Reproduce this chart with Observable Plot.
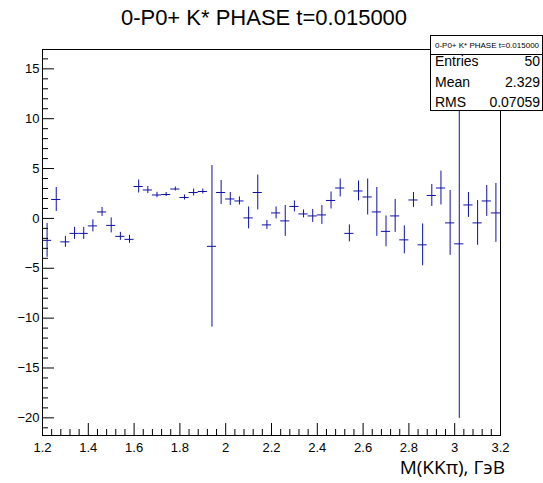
<!DOCTYPE html>
<html><head><meta charset="utf-8">
<script src="https://cdn.jsdelivr.net/npm/d3@7"></script>
<script src="https://cdn.jsdelivr.net/npm/@observablehq/plot@0.6"></script>
<style>
body{margin:0;background:#fff}
#chart svg{display:block}
</style>
</head><body><div id="chart"></div>
<script>
const title = "0-P0+ K* PHASE t=0.015000";
const xLabel = "M(KKπ), ГэВ";
const binCenters = [1.22,1.26,1.30,1.34,1.38,1.42,1.46,1.50,1.54,1.58,
  1.62,1.66,1.70,1.74,1.78,1.82,1.86,1.90,1.94,1.98,
  2.02,2.06,2.10,2.14,2.18,2.22,2.26,2.30,2.34,2.38,
  2.42,2.46,2.50,2.54,2.58,2.62,2.66,2.70,2.74,2.78,
  2.82,2.86,2.90,2.94,2.98,3.02,3.06,3.10,3.14,3.18];
const binHalfWidth = 0.02;
const values = [-2.2,1.9,-2.35,-1.5,-1.5,-0.75,0.65,-0.7,-1.8,-2.1,
  3.2,2.85,2.35,2.4,2.95,2.1,2.6,2.7,-2.8,2.6,
  1.95,1.75,0.05,2.6,-0.65,0.55,-0.25,1.2,0.45,0.25,
  0.35,1.8,3.05,-1.5,2.75,2.15,0.65,-1.3,0.25,-2.15,
  1.85,-2.65,2.3,3.05,-0.45,-2.55,1.35,-0.45,1.75,0.55];
const errors = [1.7,1.2,0.55,0.6,0.6,0.6,0.45,0.75,0.4,0.4,
  0.65,0.35,0.27,0.2,0.2,0.25,0.35,0.25,8.1,1.2,
  0.65,0.4,1.1,1.75,0.45,0.6,1.55,0.55,0.4,0.65,
  0.95,0.85,0.9,0.85,1.0,1.8,2.45,1.55,1.65,1.4,
  0.75,2.1,1.1,1.7,3.25,17.5,1.25,2.25,1.55,2.95];
const xTicks = [1.2,1.4,1.6,1.8,2.0,2.2,2.4,2.6,2.8,3.0,3.2];
const xMinorTicks = [1.24,1.28,1.32,1.36,1.44,1.48,1.52,1.56,1.64,1.68,1.72,1.76,1.84,1.88,1.92,1.96,
  2.04,2.08,2.12,2.16,2.24,2.28,2.32,2.36,2.44,2.48,2.52,2.56,2.64,2.68,2.72,2.76,
  2.84,2.88,2.92,2.96,3.04,3.08,3.12,3.16];
const yTicks = [-20,-15,-10,-5,0,5,10,15];
const yMinorTicks = [-21,-19,-18,-17,-16,-14,-13,-12,-11,-9,-8,-7,-6,-4,-3,-2,-1,1,2,3,4,6,7,8,9,11,12,13,14,16];
const xDomain = [1.2, 3.2];
const yDomain = [-21.77, 16.94];
const statsLabels = ["Entries","Mean","RMS"];
const statsValues = ["50","2.329","0.07059"];

const data = binCenters.map((x, i) => ({x, v: values[i], e: errors[i]}));
const color = "#1010a8";
const W = 543, H = 483;
const mL = 42, mR = 43, mT = 49, mB = 48;
const plotW = W - mL - mR, plotH = H - mT - mB;

const chart = Plot.plot({
  width: W, height: H,
  marginLeft: mL, marginRight: mR, marginTop: mT, marginBottom: mB,
  style: {fontFamily: "'Liberation Sans', Arial, Helvetica, sans-serif", fontSize: "13px", color: "black", background: "white", overflow: "visible"},
  x: {domain: xDomain},
  y: {domain: yDomain},
  marks: [
    Plot.ruleX(data, {x: "x", y1: d => d.v - d.e, y2: d => d.v + d.e, stroke: color, strokeWidth: 1}),
    Plot.ruleY(data, {y: "v", x1: d => d.x - binHalfWidth, x2: d => d.x + binHalfWidth, stroke: color, strokeWidth: 1}),
    Plot.tickX(xTicks, {x: d => d, insetTop: plotH - 12, stroke: "black"}),
    Plot.tickX(xMinorTicks, {x: d => d, insetTop: plotH - 6, stroke: "black"}),
    Plot.axisX(xTicks, {tickSize: 0, tickPadding: 7, label: null, tickFormat: d => String(+d.toFixed(1))}),
    Plot.tickY(yTicks, {y: d => d, insetRight: plotW - 12, stroke: "black"}),
    Plot.tickY(yMinorTicks, {y: d => d, insetRight: plotW - 6, stroke: "black"}),
    Plot.axisY(yTicks, {tickSize: 0, tickPadding: 3, label: null}),
    Plot.frame({stroke: "black", strokeWidth: 1})
  ]
});

document.getElementById("chart").appendChild(chart);
const svg = d3.select(chart);
const sans = "'Liberation Sans', Arial, sans-serif";

svg.append("text")
  .attr("x", 264).attr("y", 25)
  .attr("text-anchor", "middle")
  .style("font-family", sans)
  .style("font-size", "22px")
  .attr("fill", "black")
  .text(title);

svg.append("text")
  .attr("x", 505).attr("y", 474)
  .attr("text-anchor", "end")
  .style("font-family", "'Open Sans', 'Noto Sans', sans-serif")
  .style("font-size", "19px")
  .attr("fill", "black")
  .text(xLabel);

const box = svg.append("g");
box.append("rect").attr("x", 430.5).attr("y", 35.5).attr("width", 112).attr("height", 75)
  .attr("fill", "white").attr("stroke", "black");
box.append("line").attr("x1", 430.5).attr("x2", 542.5).attr("y1", 54.5).attr("y2", 54.5).attr("stroke", "black");
box.append("text").attr("x", 487).attr("y", 47.5).attr("text-anchor", "middle")
  .style("font-family", sans).style("font-size", "8px")
  .attr("fill", "black").text(title);
statsLabels.forEach((lab, i) => {
  const y = 66 + i * 20.6;
  box.append("text").attr("x", 435).attr("y", y).attr("text-anchor", "start").attr("fill", "black")
    .style("font-family", sans).style("font-size", "14px").text(lab);
  box.append("text").attr("x", 540).attr("y", y).attr("text-anchor", "end").attr("fill", "black")
    .style("font-family", sans).style("font-size", "14px").text(statsValues[i]);
});
</script>
</body></html>
